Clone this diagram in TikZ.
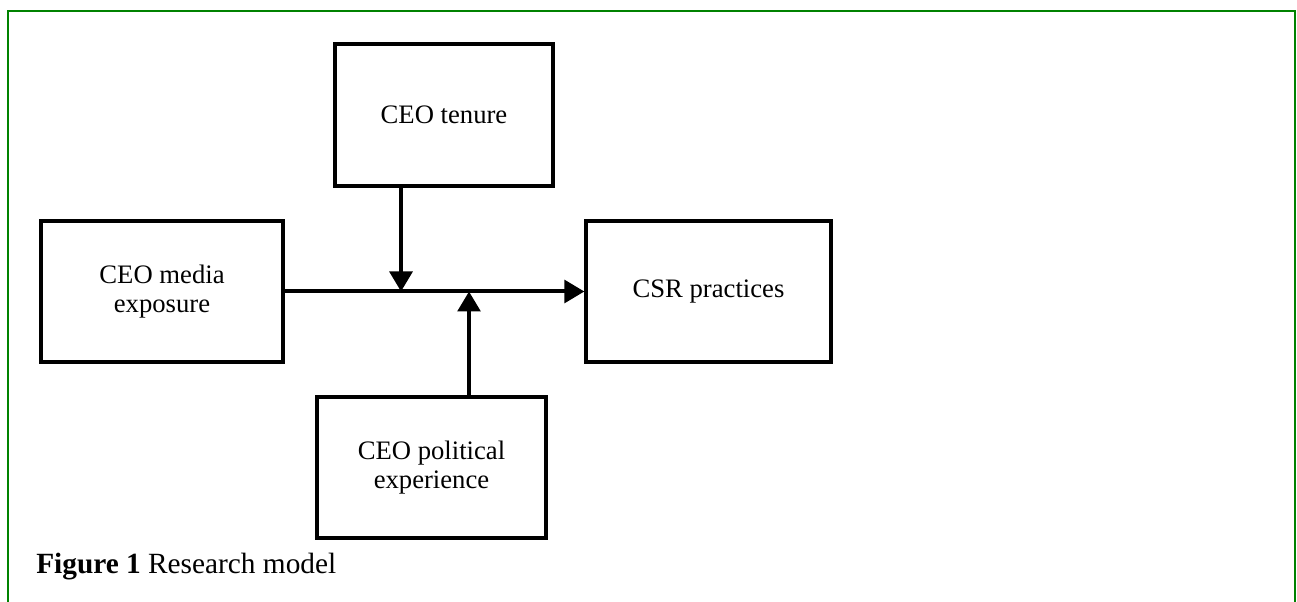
\documentclass[tikz,border=0pt]{standalone}
\usepackage{fontspec}
\setmainfont{Liberation Serif}
\usetikzlibrary{arrows.meta}
\begin{document}
\begin{tikzpicture}[x=0.75pt,y=-0.75pt,
  box/.style={draw=black,line width=2.4pt,fill=white,align=center,inner sep=0pt,
    font=\fontsize{20}{21.75}\selectfont},
  link/.style={line width=3pt,-{Triangle[length=15pt,width=17pt]}},
  frame/.style={draw={rgb,255:red,0;green,130;blue,0},line width=2pt}]
\useasboundingbox (0,0) rectangle (1297,602);
\draw[frame] (8,602) -- (8,11) -- (1295,11) -- (1295,602);
\node[box,minimum width=218*0.75pt,minimum height=142*0.75pt] (tenure) at (444,115) {CEO tenure};
\node[box,minimum width=242*0.75pt,minimum height=141*0.75pt] (media) at (162,291.5) {CEO media\\exposure};
\node[box,minimum width=245*0.75pt,minimum height=141*0.75pt] (csr) at (708.5,291.5) {CSR practices};
\node[box,minimum width=229*0.75pt,minimum height=141*0.75pt] (pol) at (431.5,467.5) {CEO political\\experience};
\coordinate (j1) at (401,291.5);
\coordinate (j2) at (469,291.5);
\draw[link] (media.east) -- (csr.west);
\draw[link] (tenure.south -| j1) -- (j1);
\draw[link] (pol.north -| j2) -- (j2);
\node[anchor=base west,inner sep=0pt,font=\fontsize{22}{24}\selectfont] (cap) at (36,573) {\textbf{Figure 1} Research model};
\end{tikzpicture}
\end{document}
